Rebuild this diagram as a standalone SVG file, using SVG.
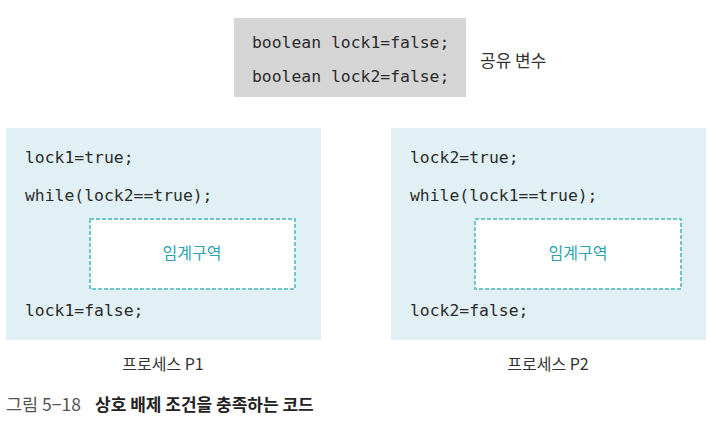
<svg xmlns="http://www.w3.org/2000/svg" width="710" height="421" viewBox="0 0 710 421">
<style>
.code{font-family:"DejaVu Sans Mono","Liberation Mono",monospace;font-size:16.4px;fill:#2b2b2b}
.ko{font-family:"Noto Sans CJK KR","Noto Sans",sans-serif;font-size:16px;fill:#333}
.crit{font-family:"Noto Sans CJK KR","Noto Sans",sans-serif;font-size:16px;fill:#2ba3b3}
.panel{fill:#e1f0f4}
.dash{fill:#fff;stroke:#6ec6cd;stroke-width:2;stroke-dasharray:4 2}
</style>
<rect width="710" height="421" fill="#fff"/>
<g id="shared">
<rect x="234" y="18" width="232" height="79" fill="#d5d5d5"/>
<text class="code" x="252" y="48">boolean lock1=false;</text>
<text class="code" x="252" y="82">boolean lock2=false;</text>
<text class="ko" x="480" y="67" style="font-size:17px">공유 변수</text>
</g>
<g id="p1">
<rect class="panel" x="6" y="128" width="315" height="212"/>
<text class="code" x="25" y="163">lock1=true;</text>
<text class="code" x="25" y="201">while(lock2==true);</text>
<rect class="dash" x="90" y="219" width="205" height="70"/>
<text class="crit" x="192" y="259" text-anchor="middle">임계구역</text>
<text class="code" x="25" y="316">lock1=false;</text>
<text class="ko" x="163" y="370" text-anchor="middle">프로세스 P1</text>
</g>
<g id="p2">
<rect class="panel" x="391" y="128" width="315" height="212"/>
<text class="code" x="410" y="163">lock2=true;</text>
<text class="code" x="410" y="201">while(lock1==true);</text>
<rect class="dash" x="475" y="219" width="206" height="70"/>
<text class="crit" x="578" y="259" text-anchor="middle">임계구역</text>
<text class="code" x="410" y="316">lock2=false;</text>
<text class="ko" x="548" y="370" text-anchor="middle">프로세스 P2</text>
</g>
<g id="connectors"></g>
<g id="caption">
<text class="ko" x="6" y="411" style="font-size:17.5px;fill:#555">그림 5−18</text>
<text class="ko" x="95" y="411" style="font-size:17px;font-weight:bold;fill:#222">상호 배제 조건을 충족하는 코드</text>
</g>
</svg>
